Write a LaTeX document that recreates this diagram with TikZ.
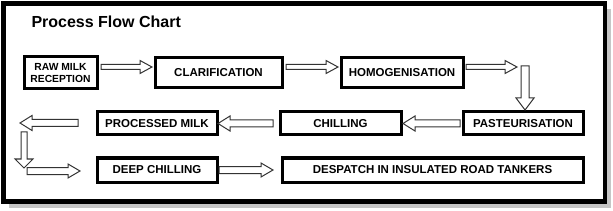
\documentclass[tikz,border=0pt]{standalone}
\usepackage{fontspec}
\setmainfont{Liberation Sans}
\usetikzlibrary{calc}
\newcommand{\blockarr}[5]{%
  \coordinate (h#1#2) at ($(#2)!#5!(#1)$);
  \draw[barrow] ($(#1)!#3!90:(#2)$) -- ($(h#1#2)!#3!90:(#2)$) -- ($(h#1#2)!#4!90:(#2)$) -- (#2)
     -- ($(h#1#2)!#4!-90:(#2)$) -- ($(h#1#2)!#3!-90:(#2)$) -- ($(#1)!#3!-90:(#2)$) -- cycle;}
\begin{document}
\begin{tikzpicture}[x=1pt,y=-1pt,
  box/.style={draw, line width=3pt, fill=white, inner sep=0pt, align=center,
    font=\fontsize{11.5}{13}\selectfont\bfseries},
  barrow/.style={draw=black!80, line width=1pt, fill=white, line join=miter}]
\fill[white] (0,0) rectangle (613,211);
\useasboundingbox (0,0) rectangle (613,211);
% frame with shadow
\draw[gray!45, line width=4pt] (609,9) -- (609,206) -- (9,206);
\draw[line width=4.5pt] (3.5,3.5) rectangle (605,201.5);
\node[anchor=base west, font=\fontsize{16}{18}\selectfont\bfseries] (title) at (28,28) {Process Flow Chart};
% boxes
\node[box, minimum width=73pt, minimum height=32pt, font=\fontsize{10.3}{12.8}\selectfont\bfseries] (raw) at (60.5,73) {RAW MILK\\RECEPTION};
\node[box, minimum width=127pt, minimum height=30pt] (clar) at (218.5,73) {CLARIFICATION};
\node[box, minimum width=122pt, minimum height=30pt] (homog) at (402,73) {HOMOGENISATION};
\node[box, minimum width=120pt, minimum height=23pt] (past) at (523,123.5) {PASTEURISATION};
\node[box, minimum width=121pt, minimum height=23pt] (chill) at (340.5,123.5) {CHILLING};
\node[box, minimum width=120pt, minimum height=23pt] (proc) at (157,123.5) {PROCESSED MILK};
\node[box, minimum width=120pt, minimum height=24pt] (deep) at (157,170) {DEEP CHILLING};
\node[box, minimum width=301pt, minimum height=24pt] (desp) at (432.5,170) {DESPATCH IN INSULATED ROAD TANKERS};
% arrow end points
\coordinate (a1s) at (101,67);  \coordinate (a1e) at (152,67);
\coordinate (a2s) at (286,67);  \coordinate (a2e) at (338,67);
\coordinate (a3s) at (466,67);  \coordinate (a3e) at (517,67);
\coordinate (a4s) at (525,66);  \coordinate (a4e) at (525,110);
\coordinate (a5s) at (460,123.5); \coordinate (a5e) at (403,123.5);
\coordinate (a6s) at (273,123.5); \coordinate (a6e) at (218,123.5);
\coordinate (a7s) at (78,123);  \coordinate (a7e) at (20,123);
\coordinate (a8s) at (24,132);  \coordinate (a8e) at (24,168);
\coordinate (a9s) at (27,171);  \coordinate (a9e) at (80,171);
\coordinate (a10s) at (219,170); \coordinate (a10e) at (273,170);
% arrows
\blockarr{a1s}{a1e}{2.5pt}{6.5pt}{12pt}
\blockarr{a2s}{a2e}{2.5pt}{6.5pt}{12pt}
\blockarr{a3s}{a3e}{2.5pt}{6.5pt}{12pt}
\blockarr{a4s}{a4e}{4pt}{9pt}{12pt}
\blockarr{a5s}{a5e}{3.5pt}{7.5pt}{12pt}
\blockarr{a6s}{a6e}{3.5pt}{7.5pt}{12pt}
\blockarr{a7s}{a7e}{3.5pt}{7.5pt}{12pt}
\blockarr{a8s}{a8e}{3pt}{9pt}{9pt}
\blockarr{a9s}{a9e}{3.5pt}{7pt}{12pt}
\blockarr{a10s}{a10e}{3.5pt}{7pt}{12pt}
\end{tikzpicture}
\end{document}
